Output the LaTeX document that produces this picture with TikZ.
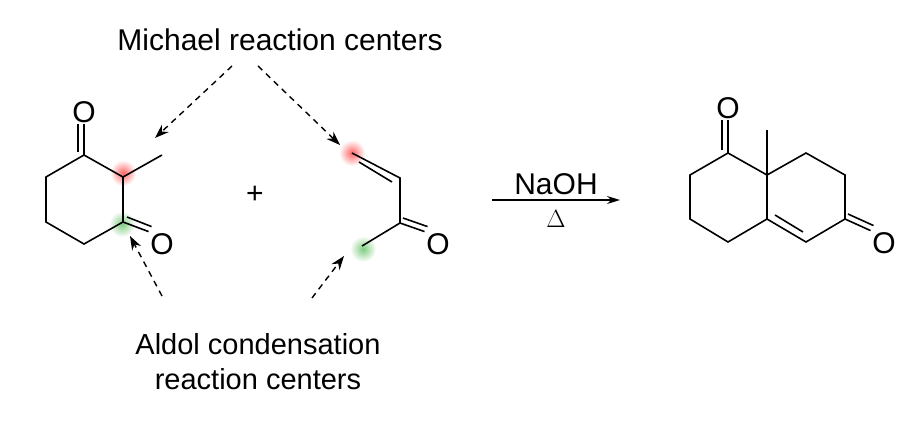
\documentclass[tikz,border=0pt]{standalone}
\usepackage{fontspec}
\setmainfont{Liberation Sans}
\usetikzlibrary{arrows.meta}
\begin{document}
\begin{tikzpicture}[x=1pt,y=-1pt,line width=1.6pt,
  bond/.style={line width=1.6pt},
  lbl/.style={font=\fontsize{30}{32}\selectfont,inner sep=0pt},
  atom/.style={font=\fontsize{30}{32}\selectfont,inner sep=1pt},
  hint/.style={dash pattern=on 6pt off 5pt,line width=1.4pt,-{Stealth[length=14pt,width=10pt]}},
  glowred/.style={inner color=red!60,outer color=white},
  glowgreen/.style={inner color=green!60!black!50,outer color=white}]
\useasboundingbox (0,0) rectangle (912,426);
% glows
\shade[glowred] (123,173) circle (13);
\shade[glowgreen] (122,224) circle (13);
\shade[glowred] (352,153) circle (13);
\shade[glowgreen] (363,249) circle (13);
% left ring
\coordinate (a1) at (84,155); \coordinate (a2) at (123,177);
\coordinate (a3) at (123,222); \coordinate (a4) at (84,244);
\coordinate (a5) at (46,222); \coordinate (a6) at (46,177);
\coordinate (am) at (162,155);
\node[atom] (o1) at (84,112) {O};
\node[atom] (o2) at (162,244) {O};
\draw[bond] (a1)--(a2)--(a3)--(a4)--(a5)--(a6)--cycle;
\draw[bond] (a2)--(am);
\draw[bond] (a1)--(o1.south);
\draw[bond] ([xshift=-6,yshift=3]a1)--([xshift=-6]o1.south);
\draw[bond] (a3)--(o2.north west);
\draw[bond] ([xshift=4,yshift=5]a3)--([xshift=3,yshift=5]o2.north west);
% plus
\node[lbl] (plus) at (255,195) {+};
% enone
\coordinate (b1) at (352,153); \coordinate (b2) at (400,178);
\coordinate (b3) at (400,223); \coordinate (b4) at (362,246);
\node[atom] (o3) at (438,244) {O};
\draw[bond] (b1)--(b2)--(b3)--(b4);
\draw[bond] ([xshift=7,yshift=-9]b1)--([xshift=-8,yshift=-4]b2);
\draw[bond] (b3)--(o3.north west);
\draw[bond] ([xshift=3,yshift=5]b3)--([xshift=3,yshift=5]o3.north west);
% arrow
\coordinate (r1) at (492,200); \coordinate (r2) at (620,200);
\draw[line width=1.4pt,-{Stealth[length=13pt,width=8pt]}] (r1)--(r2);
\node[lbl] (naoh) at (556,184) {NaOH};
\node[lbl] (delta) at (556,219) {$\Delta$};
% product
\coordinate (c1) at (728,153); \coordinate (c8a) at (767,175);
\coordinate (c2) at (690,175); \coordinate (c3) at (690,219);
\coordinate (c4) at (728,242); \coordinate (c4a) at (767,219);
\coordinate (c5) at (806,242); \coordinate (c6) at (845,219);
\coordinate (c7) at (845,175); \coordinate (c8) at (806,153);
\coordinate (cm) at (767,130);
\node[atom] (o4) at (728,108) {O};
\node[atom] (o5) at (884,243) {O};
\draw[bond] (c1)--(c8a)--(c4a)--(c4)--(c3)--(c2)--cycle;
\draw[bond] (c8a)--(c8)--(c7)--(c6)--(c5)--(c4a);
\draw[bond] (c8a)--(cm);
\draw[bond] (c1)--(o4.south);
\draw[bond] ([xshift=-6,yshift=3]c1)--([xshift=-6]o4.south);
\draw[bond] ([xshift=8,yshift=4]c4a)--([xshift=-3,yshift=10]c5);
\draw[bond] (c6)--(o5.north west);
\draw[bond] ([xshift=3,yshift=5]c6)--([xshift=3,yshift=5]o5.north west);
% labels
\node[lbl] (mich) at (280,40) {Michael reaction centers};
\node[lbl,align=center,font=\fontsize{29}{31}\selectfont] (ald) at (258,362) {Aldol condensation\\[4pt]reaction centers};
\coordinate (m1) at (232,66); \coordinate (m2) at (258,66);
\coordinate (d1) at (162,296); \coordinate (d2) at (312,298);
\draw[hint] (m1)--(155,138);
\draw[hint] (m2)--(340,145);
\draw[hint] (d1)--(130,236);
\draw[hint] (d2)--(344,256);
\end{tikzpicture}
\end{document}
